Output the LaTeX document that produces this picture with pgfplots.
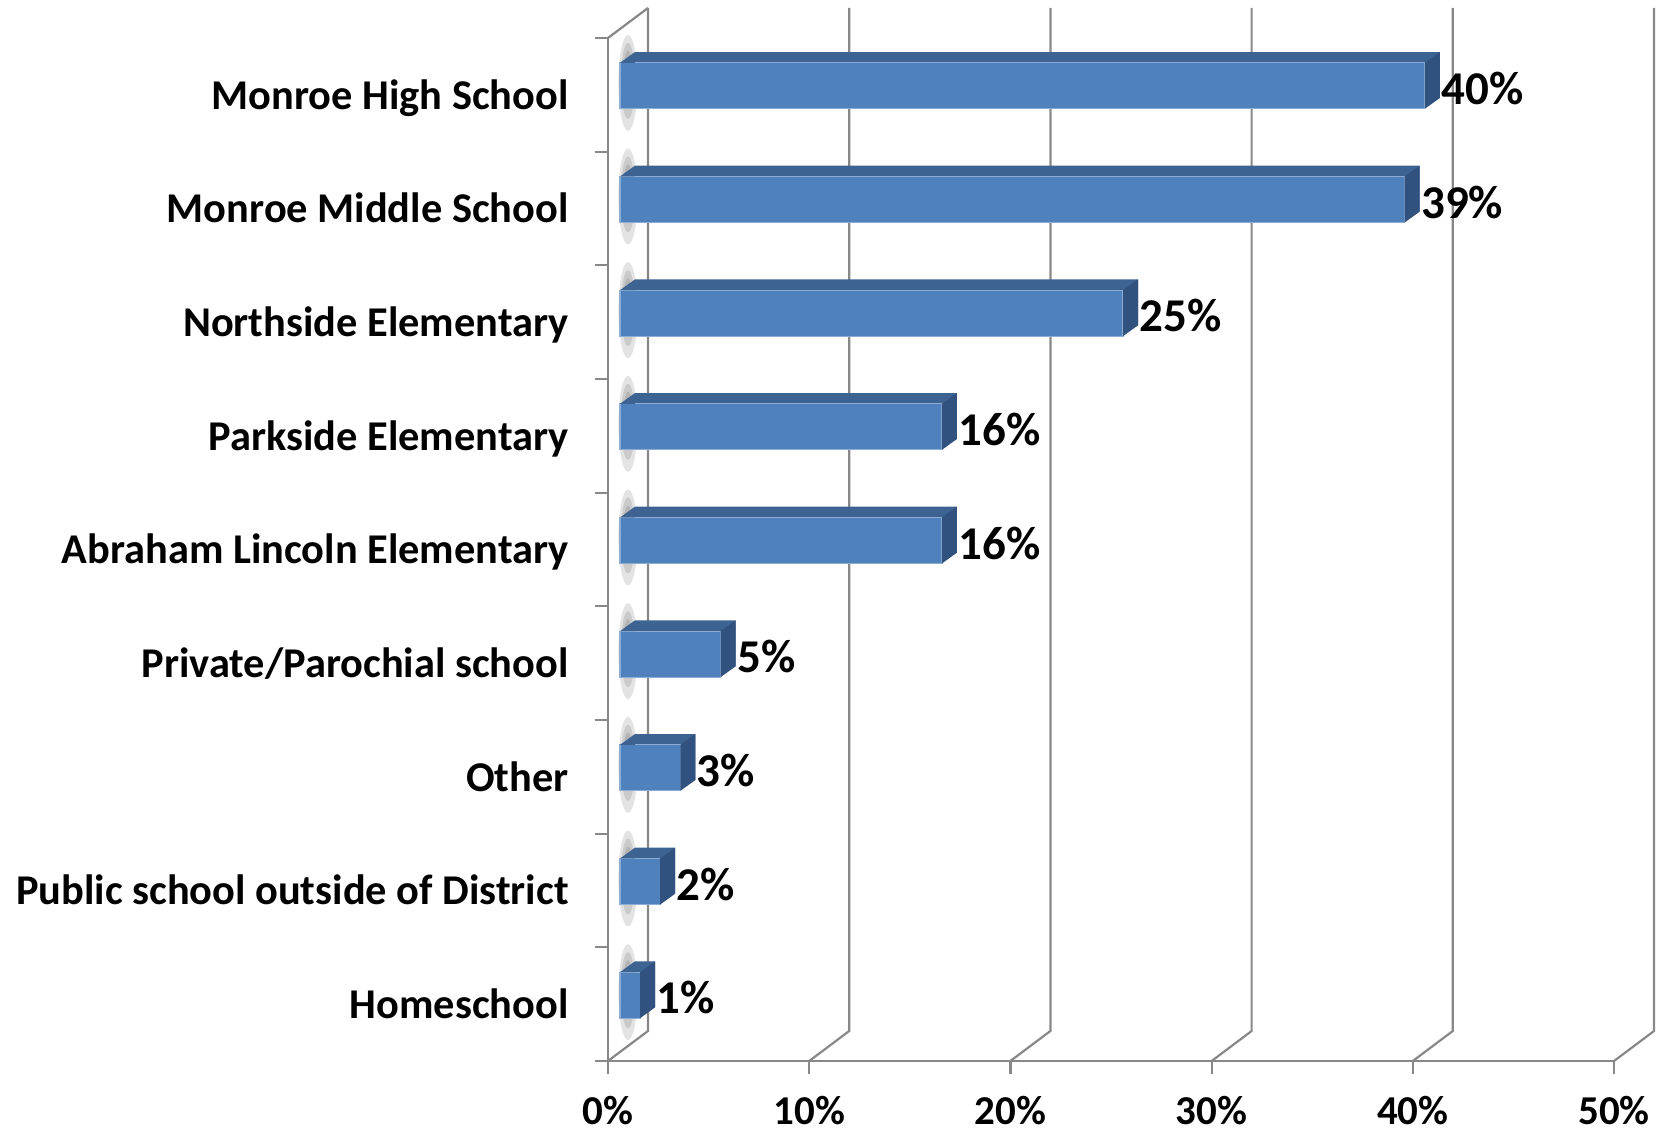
\documentclass[border=0pt]{standalone}
\usepackage{pgfplots}
\pgfplotsset{compat=1.18}
\usepackage{pgfplotstable}
\usepackage{fontspec}
\setmainfont{Carlito}
\definecolor{frontc}{HTML}{4F81BD}
\definecolor{topc}{HTML}{3D6393}
\definecolor{sidec}{HTML}{31527E}
\definecolor{gridc}{HTML}{888888}

\pgfdeclareplotmark{shadowA}{\pgfpathellipse{\pgfqpoint{10pt}{6pt}}{\pgfqpoint{4.8pt}{0pt}}{\pgfqpoint{0pt}{24pt}}\pgfusepathqfill}
\pgfdeclareplotmark{shadowB}{\pgfpathellipse{\pgfqpoint{10pt}{7pt}}{\pgfqpoint{3.6pt}{0pt}}{\pgfqpoint{0pt}{19pt}}\pgfusepathqfill}
\pgfdeclareplotmark{shadowC}{\pgfpathellipse{\pgfqpoint{10pt}{8pt}}{\pgfqpoint{2.5pt}{0pt}}{\pgfqpoint{0pt}{14pt}}\pgfusepathqfill}
\pgfdeclareplotmark{shadowD}{\pgfpathellipse{\pgfqpoint{10pt}{9pt}}{\pgfqpoint{1.4pt}{0pt}}{\pgfqpoint{0pt}{9pt}}\pgfusepathqfill}
\pgfdeclareplotmark{sideface}{%
  \pgfpathmoveto{\pgfqpoint{0pt}{-11.5pt}}%
  \pgfpathlineto{\pgfqpoint{0pt}{11.5pt}}%
  \pgfpathlineto{\pgfqpoint{7.5pt}{16.9pt}}%
  \pgfpathlineto{\pgfqpoint{7.5pt}{-6.1pt}}%
  \pgfpathclose
  \pgfusepathqfill}
\pgfdeclareplotmark{topleft}{%
  \pgfpathmoveto{\pgfqpoint{0pt}{11.5pt}}%
  \pgfpathlineto{\pgfqpoint{7.5pt}{16.9pt}}%
  \pgfpathlineto{\pgfqpoint{7.5pt}{11.5pt}}%
  \pgfpathclose
  \pgfusepathqfill}

\pgfplotstableread{
y v
8 40
7 39
6 25
5 16
4 16
3 5
2 3
1 2
0 1
}\datatable

\pgfplotsset{frame/.style={
  at={(304pt,36pt)}, anchor=south west,
  scale only axis, width=503pt, height=511.5pt,
  xmin=0, xmax=50, ymin=-0.5, ymax=8.5, clip=false}}

\begin{document}
\begin{tikzpicture}
\useasboundingbox (0,0) rectangle (835pt,566.5pt);
% walls and gridlines (behind the bars)
\begin{scope}[draw=gridc, line width=1.1pt]
  \foreach \k in {0,...,5} {
    \draw ({304pt+\k*100.6pt},36pt) -- ({324pt+\k*100.6pt},51pt) -- ({324pt+\k*100.6pt},562.5pt);
  }
  \draw (304pt,547.5pt) -- (324pt,562.5pt);
\end{scope}
% shadows of the bars on the left wall
\begin{axis}[frame, hide axis]
\addplot[only marks, mark=shadowA, mark options={draw=none, fill=black, fill opacity=0.11}] table[x expr=0, y=y] \datatable;
\addplot[only marks, mark=shadowB, mark options={draw=none, fill=black, fill opacity=0.11}] table[x expr=0, y=y] \datatable;
\addplot[only marks, mark=shadowC, mark options={draw=none, fill=black, fill opacity=0.11}] table[x expr=0, y=y] \datatable;
\addplot[only marks, mark=shadowD, mark options={draw=none, fill=black, fill opacity=0.11}] table[x expr=0, y=y] \datatable;
\end{axis}
\begin{axis}[
  frame,
  axis x line*=bottom, axis y line*=left,
  axis line style={draw=gridc, line width=1.1pt},
  tick align=outside,
  major tick length=6.5pt, minor tick length=6.5pt,
  xtick={0,10,20,30,40,50},
  xticklabels={0\%,10\%,20\%,30\%,40\%,50\%},
  x tick style={draw=gridc, line width=1.1pt},
  ytick={0,...,8},
  yticklabels={Homeschool, Public school outside of District, Other, Private/Parochial school, Abraham Lincoln Elementary, Parkside Elementary, Northside Elementary, Monroe Middle School, Monroe High School},
  minor ytick={-0.5,0.5,...,8.5},
  major y tick style={draw=none},
  minor y tick style={draw=gridc, line width=1.1pt},
  tick label style={inner sep=0pt},
  yticklabel style={font=\fontsize{21.2}{24}\selectfont\bfseries, anchor=base east, yshift=-7.2pt, xshift=-13pt},
  xticklabel style={font=\fontsize{20.5}{24}\selectfont\bfseries, anchor=base, yshift=-25.5pt, text depth=0pt},
  /pgf/number format/assume math mode=true,
]
\addplot[xbar, bar shift=0pt, bar width=23pt, fill=topc, draw=none, xshift=13.5pt, yshift=9.9pt] table[x=v, y=y] \datatable;
\addplot[only marks, mark=topleft, color=topc, xshift=6pt, yshift=4.5pt] table[x expr=0, y=y] \datatable;
\addplot[only marks, mark=sideface, color=sidec, xshift=6pt, yshift=4.5pt] table[x=v, y=y] \datatable;
\addplot[xbar, bar shift=0pt, bar width=23pt, fill=frontc, draw=frontc!65!white, line width=0.6pt,
  xshift=6pt, yshift=4.5pt, point meta=x,
  nodes near coords={\pgfmathprintnumber{\pgfplotspointmeta}\%},
  every node near coord/.append style={anchor=base west, xshift=8pt, yshift=-9.4pt, inner sep=0pt, text=black,
    font=\fontsize{23.5}{27}\selectfont\bfseries}] table[x=v, y=y] \datatable;
\end{axis}
\end{tikzpicture}
\end{document}
